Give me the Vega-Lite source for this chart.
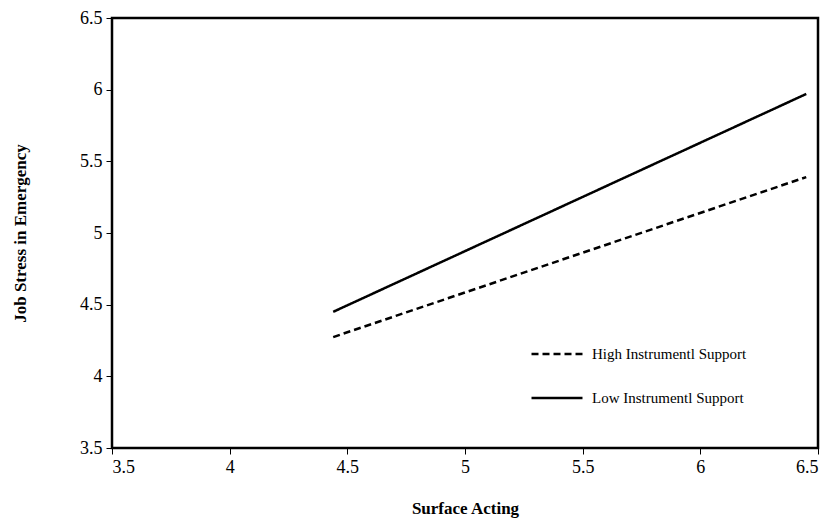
{
  "$schema": "https://vega.github.io/schema/vega-lite/v6.json",
  "autosize": "none",
  "width": 706,
  "height": 430,
  "padding": {"left": 112, "top": 18, "right": 17, "bottom": 82},
  "background": "white",
  "config": {
    "view": {"stroke": "black", "strokeWidth": 2.5},
    "font": "Liberation Serif"
  },
  "data": {
    "values": [
      {"series": "High Instrumentl Support", "x": 4.44, "y": 4.274},
      {"series": "High Instrumentl Support", "x": 6.45, "y": 5.39},
      {"series": "Low Instrumentl Support", "x": 4.44, "y": 4.45},
      {"series": "Low Instrumentl Support", "x": 6.45, "y": 5.97}
    ]
  },
  "mark": {"type": "line", "color": "black", "strokeWidth": 2.5},
  "encoding": {
    "x": {
      "field": "x", "type": "quantitative",
      "scale": {"domain": [3.5, 6.5], "nice": false, "zero": false},
      "axis": {
        "values": [3.5, 4, 4.5, 5, 5.5, 6, 6.5],
        "format": "~g",
        "grid": false, "domain": false,
        "tickColor": "black", "tickSize": 6, "tickWidth": 1,
        "labelFont": "Liberation Serif", "labelFontSize": 18, "labelColor": "black",
        "labelPadding": 4,
        "title": "Surface Acting",
        "titleFont": "Liberation Serif", "titleFontSize": 17, "titleFontWeight": "bold",
        "titleColor": "black", "titlePadding": 24
      }
    },
    "y": {
      "field": "y", "type": "quantitative",
      "scale": {"domain": [3.5, 6.5], "nice": false, "zero": false},
      "axis": {
        "values": [3.5, 4, 4.5, 5, 5.5, 6, 6.5],
        "format": "~g",
        "grid": false, "domain": false,
        "tickColor": "black", "tickSize": 6, "tickWidth": 1,
        "labelFont": "Liberation Serif", "labelFontSize": 18, "labelColor": "black",
        "labelPadding": 4,
        "title": "Job Stress in Emergency",
        "titleFont": "Liberation Serif", "titleFontSize": 17, "titleFontWeight": "bold",
        "titleColor": "black", "titlePadding": 50
      }
    },
    "strokeDash": {
      "field": "series", "type": "nominal",
      "scale": {
        "domain": ["High Instrumentl Support", "Low Instrumentl Support"],
        "range": [[7, 4], [1, 0]]
      },
      "legend": {
        "orient": "none",
        "legendX": 418,
        "legendY": 309,
        "title": null,
        "symbolType": "stroke",
        "symbolSize": 2600,
        "symbolStrokeWidth": 2.5,
        "symbolStrokeColor": "black",
        "labelFont": "Liberation Serif",
        "labelFontSize": 15,
        "labelColor": "black",
        "labelOffset": 8,
        "rowPadding": 9,
        "labelLimit": 300
      }
    }
  }
}
